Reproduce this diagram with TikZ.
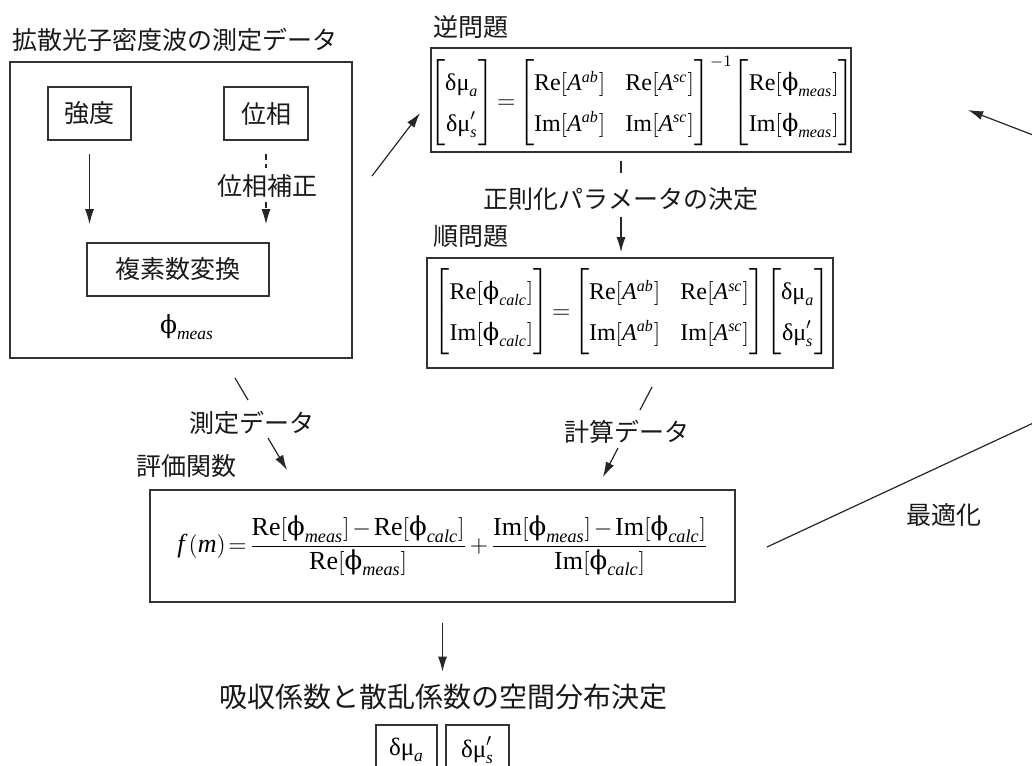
\documentclass[tikz,border=0pt]{standalone}
\usepackage{amsmath}
\usepackage{fontspec}
\setmainfont{Liberation Serif}
\newfontfamily\jp{Noto Sans CJK JP}
\newfontfamily\grk{DejaVu Serif}
\usetikzlibrary{arrows.meta}
\newcommand{\dmu}{\text{δμ}}
\newcommand{\ph}{\text{\grk ϕ}}
\newcommand{\itx}[1]{\mathit{#1}}
\tikzset{
  jptext/.style={font=\jp\fontsize{12.5}{14}\selectfont, inner sep=1pt, text=black!90},
  bigjp/.style={font=\jp\fontsize{14}{16}\selectfont, inner sep=1pt, text=black!90},
  mathtext/.style={font=\fontsize{12.5}{15}\selectfont, inner sep=0pt},
  feqtext/.style={font=\fontsize{13}{16}\selectfont, inner sep=0pt},
  mtx/.style={font=\fontsize{12}{14}\selectfont, inner sep=0pt},
  box/.style={draw=black!80, line width=0.8pt, inner sep=0pt},
  conn/.style={draw=black!85, line width=0.6pt},
  arr/.style={conn, -{Latex[length=7.5pt,width=4.5pt]}},
  dsh/.style={dash pattern=on 3pt off 2pt}
}
\begin{document}
\begin{tikzpicture}[x=0.5pt,y=-0.5pt]
\useasboundingbox (0,0) rectangle (1032,765);
\renewcommand{\arraystretch}{1.45}
\setlength{\arraycolsep}{5pt}
\thickmuskip=2mu
\medmuskip=2mu
% --- measurement block ---
\node[jptext, anchor=west] (title) at (10,40) {拡散光子密度波の測定データ};
\node[box, minimum width=171pt, minimum height=148pt] (outer) at (181,210) {};
\node[box, jptext, minimum width=41.5pt, minimum height=26.5pt] (int) at (89.5,113.5) {強度};
\node[box, jptext, minimum width=42pt, minimum height=26.5pt] (pha) at (266,113.5) {位相};
\node[jptext] (phc) at (267,186) {位相補正};
\node[box, jptext, minimum width=91pt, minimum height=26.5pt] (cpx) at (178,269.5) {複素数変換};
\node[mathtext] (phim) at (187,327) {$\ph_{\itx{meas}}$};
\draw[arr, shorten <=6.5pt, shorten >=9pt] (int.south) -- (int.south |- cpx.north);
\draw[conn, dsh, shorten <=6.5pt, shorten >=2pt] (pha.south) -- (pha.south |- phc.north);
\draw[arr, dsh, shorten <=1pt, shorten >=9pt] (pha.south |- phc.south) -- (pha.south |- cpx.north);
% --- arrow to inverse problem ---
\coordinate (a1) at (372,176);
\coordinate (a2) at (420,113);
\draw[arr] (a1) -- (a2);
% --- inverse problem ---
\node[jptext, anchor=west] (invlab) at (431,27) {逆問題};
\node[box, minimum width=210pt, minimum height=52pt] (inv) at (641,100) {};
\node[mtx] (inveq) at (642,101) {$\begin{bmatrix}\dmu_{\itx{a}}\\ \dmu'_{\itx{s}}\end{bmatrix}
=\begin{bmatrix}\mathrm{Re}[\itx{A}^{\itx{ab}}] & \mathrm{Re}[\itx{A}^{\itx{sc}}]\\ \mathrm{Im}[\itx{A}^{\itx{ab}}] & \mathrm{Im}[\itx{A}^{\itx{sc}}]\end{bmatrix}^{-1}
\!\begin{bmatrix}\mathrm{Re}[\ph_{\itx{meas}}]\\ \mathrm{Im}[\ph_{\itx{meas}}]\end{bmatrix}$};
% --- regularisation ---
\node[jptext] (reg) at (621,199) {正則化パラメータの決定};
\draw[conn, shorten <=4pt, shorten >=6pt] (inv.south -| reg.center) -- (reg.north);
% --- forward problem ---
\node[jptext, anchor=west] (fwdlab) at (431,236) {順問題};
\node[box, minimum width=203pt, minimum height=55pt] (fwd) at (630,313) {};
\node[mtx] (fwdeq) at (632,312) {$\begin{bmatrix}\mathrm{Re}[\ph_{\itx{calc}}]\\ \mathrm{Im}[\ph_{\itx{calc}}]\end{bmatrix}
=\begin{bmatrix}\mathrm{Re}[\itx{A}^{\itx{ab}}] & \mathrm{Re}[\itx{A}^{\itx{sc}}]\\ \mathrm{Im}[\itx{A}^{\itx{ab}}] & \mathrm{Im}[\itx{A}^{\itx{sc}}]\end{bmatrix}
\!\begin{bmatrix}\dmu_{\itx{a}}\\ \dmu'_{\itx{s}}\end{bmatrix}$};
\draw[arr, shorten <=2pt, shorten >=2.5pt] (reg.south) -- (reg.center |- fwd.north);
% --- data connectors ---
\node[jptext] (mdat) at (252,423) {測定データ};
\node[jptext] (cdat) at (627,432) {計算データ};
\coordinate (m1) at (235,378); \coordinate (m2) at (248,400);
\coordinate (m3) at (268,438); \coordinate (m4) at (287,470);
\draw[conn] (m1) -- (m2);
\draw[arr] (m3) -- (m4);
\coordinate (c1) at (652,387); \coordinate (c2) at (640,410);
\coordinate (c3) at (618,448); \coordinate (c4) at (603,477);
\draw[conn] (c1) -- (c2);
\draw[arr] (c3) -- (c4);
% --- evaluation function ---
\node[jptext, anchor=west] (evlab) at (134,466) {評価関数};
\node[box, minimum width=292.5pt, minimum height=56pt] (fbox) at (442.5,546) {};
\node[feqtext] (feq) at (443,546) {$\itx{f}\,(\itx{m})=\dfrac{\mathrm{Re}[\ph_{\itx{meas}}]-\mathrm{Re}[\ph_{\itx{calc}}]}{\mathrm{Re}[\ph_{\itx{meas}}]}+\dfrac{\mathrm{Im}[\ph_{\itx{meas}}]-\mathrm{Im}[\ph_{\itx{calc}}]}{\mathrm{Im}[\ph_{\itx{calc}}]}$};
% --- result ---
\node[bigjp] (res) at (443,697) {吸収係数と散乱係数の空間分布決定};
\draw[arr, shorten <=10pt, shorten >=5pt] (fbox.south) -- (res.north -| fbox.south);
\node[box, mathtext, minimum width=30.5pt, minimum height=25pt] (ra) at (406.5,750) {$\dmu_{\itx{a}}$};
\node[box, mathtext, minimum width=31.5pt, minimum height=25pt] (rs) at (477.5,750) {$\dmu'_{\itx{s}}$};
% --- optimisation loop ---
\coordinate (o1) at (767,547);
\coordinate (o2) at (1072,405);
\coordinate (o3) at (1072,150);
\coordinate (o4) at (968,110);
\draw[arr] (o1) -- (o2) -- (o3) -- (o4);
\node[jptext] (opt) at (944,515) {最適化};
\end{tikzpicture}
\end{document}
